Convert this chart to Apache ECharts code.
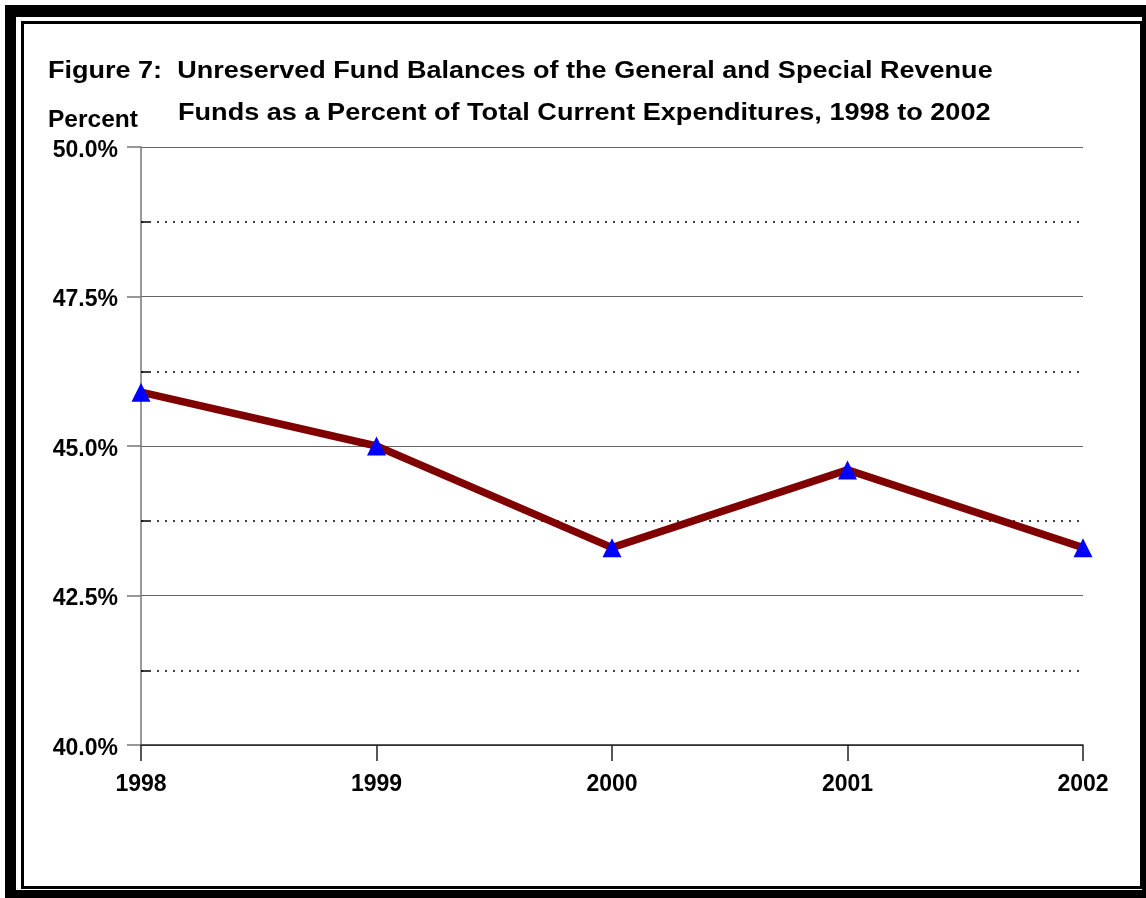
<!DOCTYPE html>
<html>
<head>
<meta charset="utf-8">
<style>
  html, body { margin: 0; padding: 0; background: #fff; }
  #chart { width: 1146px; height: 898px; }
</style>
<script src="https://cdn.jsdelivr.net/npm/echarts@6/dist/echarts.min.js"></script>
</head>
<body>
<div id="chart"></div>
<script>
// Years on the horizontal axis
const years = ['1998', '1999', '2000', '2001', '2002'];
// Unreserved fund balance as a percent of total current expenditures
const balancePct = [45.9, 45.0, 43.3, 44.6, 43.3];

const titleLine1 = 'Figure 7:  Unreserved Fund Balances of the General and Special Revenue';
const titleLine2 = 'Funds as a Percent of Total Current Expenditures, 1998 to 2002';
const yAxisName = 'Percent';

const FONT = '"Liberation Sans", Arial, sans-serif';
const TITLE_FONT = 'bold 23px ' + FONT;

const chart = echarts.init(document.getElementById('chart'), null, { renderer: 'canvas' });

// widened bold heading text
function heading(text, x, y, sx) {
  return {
    type: 'text', x: x, y: y, scaleX: sx, originX: 0, originY: 0,
    style: { text: text, font: TITLE_FONT, fill: '#000', align: 'left', verticalAlign: 'middle' }
  };
}

chart.setOption({
  backgroundColor: '#ffffff',
  animation: false,
  graphic: [
    // heavy outer frame
    { type: 'rect', left: 5, top: 5, shape: { width: 1141, height: 12 }, style: { fill: '#000' } },
    { type: 'rect', left: 5, top: 5, shape: { width: 11, height: 893 }, style: { fill: '#000' } },
    { type: 'rect', left: 5, top: 890, shape: { width: 1141, height: 8 }, style: { fill: '#000' } },
    { type: 'rect', left: 1142, top: 5, shape: { width: 4, height: 893 }, style: { fill: '#000' } },
    // thin inner frame
    { type: 'rect', left: 20, top: 20, shape: { width: 1119, height: 865 }, style: { fill: 'none', stroke: '#000', lineWidth: 3 } },
    // heading and axis name
    heading(titleLine1, 48, 72, 1.175),
    heading(titleLine2, 178, 114, 1.178),
    heading(yAxisName, 48, 121, 1.066)
  ],
  grid: { left: 141, right: 63, top: 147, bottom: 153, containLabel: false },
  xAxis: {
    type: 'category',
    data: years,
    boundaryGap: false,
    axisLine: { lineStyle: { color: '#222', width: 1.5 } },
    axisTick: { show: true, alignWithLabel: true, length: 16, lineStyle: { color: '#222', width: 1.5 } },
    axisLabel: { color: '#000', fontFamily: FONT, fontWeight: 'bold', fontSize: 23, margin: 28 },
    splitLine: { show: false }
  },
  yAxis: [{
    type: 'value',
    min: 40,
    max: 50,
    interval: 2.5,
    axisLine: { show: true, lineStyle: { color: '#777', width: 1.5 } },
    axisTick: { show: true, length: 14, lineStyle: { color: '#777', width: 1.5 } },
    minorTick: { show: false, splitNumber: 2 },
    axisLabel: {
      margin: 23,
      formatter: v => '{p|' + v.toFixed(1) + '%}',
      rich: {
        p: { color: '#000', fontFamily: FONT, fontWeight: 'bold', fontSize: 23, padding: [7, 0, 0, 0] }
      }
    },
    splitLine: { show: true, lineStyle: { color: '#666', width: 1.2 } },
    minorSplitLine: { show: true, lineStyle: { color: '#000', width: 1.5, type: [2, 6] } }
  }, {
    // inward minor ticks on the value axis
    type: 'value',
    position: 'left',
    min: 40,
    max: 50,
    interval: 2.5,
    axisLine: { show: false },
    axisLabel: { show: false },
    splitLine: { show: false },
    axisTick: { show: false, inside: true },
    minorTick: { show: true, splitNumber: 2, length: 8, lineStyle: { color: '#000', width: 1.5 } }
  }],
  series: [{
    type: 'line',
    data: balancePct,
    symbol: 'triangle',
    symbolSize: 19,
    lineStyle: { color: '#800000', width: 7.5 },
    itemStyle: { color: '#0000ff' },
    z: 5
  }]
});
</script>
</body>
</html>
